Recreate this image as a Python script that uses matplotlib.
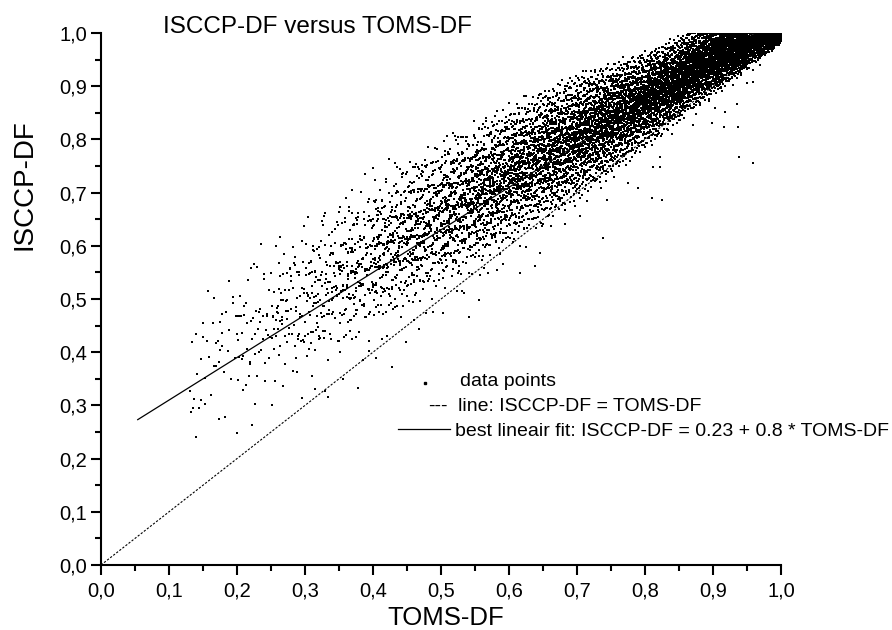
import numpy as np
import matplotlib
matplotlib.use("Agg")
import matplotlib.pyplot as plt
from matplotlib.ticker import MultipleLocator, FuncFormatter
from matplotlib.lines import Line2D

plt.rcParams['font.family'] = ['Liberation Sans', 'DejaVu Sans']

# Envelope of the point cloud at these TOMS-DF values
x_nodes = [0.13, 0.15, 0.20, 0.25, 0.30, 0.35, 0.40, 0.45, 0.50, 0.55,
           0.60, 0.65, 0.70, 0.75, 0.80, 0.85, 0.90, 0.95, 1.00]
main_lo = [0.25, 0.27, 0.30, 0.33, 0.36, 0.40, 0.44, 0.48, 0.52, 0.56,
           0.60, 0.64, 0.68, 0.73, 0.78, 0.83, 0.88, 0.93, 0.98]
main_hi = [0.45, 0.50, 0.55, 0.60, 0.64, 0.68, 0.72, 0.76, 0.80, 0.83,
           0.87, 0.90, 0.93, 0.95, 0.97, 1.00, 1.03, 1.03, 1.01]
halo_lo = [0.23, 0.24, 0.25, 0.27, 0.30, 0.33, 0.37, 0.42, 0.47, 0.52,
           0.57, 0.62, 0.67, 0.72, 0.77, 0.82, 0.87, 0.92, 0.98]
halo_hi = [0.42, 0.52, 0.57, 0.62, 0.66, 0.71, 0.75, 0.78, 0.81, 0.84,
           0.87, 0.90, 0.92, 0.94, 0.96, 0.99, 1.00, 1.00, 1.00]
# estimated number of points between two neighbouring nodes
main_n = [6, 20, 40, 70, 110, 170, 240, 340, 450, 580, 700, 820, 940, 1050, 1150, 1300, 1500, 1100]
halo_n = [3, 8, 12, 15, 20, 25, 30, 35, 40, 45, 45, 45, 45, 40, 35, 30, 25, 15]

# single points away from the cloud
out_x = [0.938, 0.959, 0.935, 0.918, 0.937, 0.916, 0.903, 0.950, 0.959, 0.969,
         0.898, 0.871, 0.822, 0.812, 0.822, 0.810, 0.825, 0.790, 0.775, 0.744,
         0.847, 0.738, 0.704, 0.682, 0.638, 0.616, 0.646, 0.556, 0.541, 0.582,
         0.518, 0.525, 0.625, 0.419, 0.435, 0.454, 0.400, 0.330, 0.263, 0.225,
         0.188, 0.178, 0.165, 0.150, 0.351, 0.140, 0.200, 0.174, 0.147, 0.378,
         0.428, 0.334]
out_y = [0.767, 0.756, 0.866, 0.851, 0.823, 0.823, 0.859, 0.906, 0.908, 0.940,
         0.830, 0.827, 0.767, 0.748, 0.748, 0.690, 0.686, 0.709, 0.718, 0.686,
         0.830, 0.615, 0.656, 0.641, 0.562, 0.549, 0.586, 0.498, 0.466, 0.554,
         0.812, 0.805, 0.882, 0.726, 0.748, 0.757, 0.746, 0.662, 0.617, 0.566,
         0.534, 0.472, 0.455, 0.429, 0.673, 0.240, 0.248, 0.274, 0.310, 0.333,
         0.372, 0.316]

fit_x = [0.054, 0.96]
ident_x = [0.0, 1.0]


def halton(k, base):
    f, r = 1.0, 0.0
    while k > 0:
        f /= base
        r += f * (k % base)
        k //= base
    return r


def spread(lo, hi, counts, start, peaked):
    # lay the counted points out evenly (Halton sequence) inside each band
    xs, ys = [], []
    k = start
    for i, n in enumerate(counts):
        for _ in range(n):
            u, v, w = halton(k, 2), halton(k, 3), halton(k, 5)
            k += 1
            x = x_nodes[i] + u * (x_nodes[i + 1] - x_nodes[i])
            ylo = np.interp(x, x_nodes, lo)
            yhi = np.interp(x, x_nodes, hi)
            t = (v + w) / 2 if peaked else v
            xs.append(x)
            ys.append(min(ylo + t * (yhi - ylo), 1.0))
    return xs, ys


mx, my = spread(main_lo, main_hi, main_n, 1000, True)
hx, hy = spread(halo_lo, halo_hi, halo_n, 40000, False)

W, H = 892, 630
fig = plt.figure(figsize=(W / 100, H / 100), dpi=100)
ax = fig.add_axes([101 / W, 1 - 565 / H, 680 / W, 532 / H])

ax.scatter(mx + hx + out_x, my + hy + out_y, s=2.6, marker='s', c='black', linewidths=0)
ax.plot(ident_x, ident_x, color='black', lw=0.8, dashes=(2, 1.5))
ax.plot(fit_x, [0.23 + 0.8 * v for v in fit_x], color='black', lw=0.9)

ax.set_xlim(0, 1)
ax.set_ylim(0, 1)
for s in ['top', 'right']:
    ax.spines[s].set_visible(False)
for s in ['left', 'bottom']:
    ax.spines[s].set_linewidth(1.5)
ax.xaxis.set_major_locator(MultipleLocator(0.1))
ax.yaxis.set_major_locator(MultipleLocator(0.1))
ax.xaxis.set_minor_locator(MultipleLocator(0.05))
ax.yaxis.set_minor_locator(MultipleLocator(0.05))
fmt = FuncFormatter(lambda v, p: f"{v:.1f}".replace('.', ','))
ax.xaxis.set_major_formatter(fmt)
ax.yaxis.set_major_formatter(fmt)
ax.tick_params(which='major', direction='out', length=7, width=1.5, labelsize=14.5)
ax.tick_params(which='minor', direction='out', length=4, width=1.5)
ax.tick_params(axis='x', which='major', pad=5)
ax.tick_params(axis='y', which='major', pad=3)


def fx(px):
    return px / W


def fy(py):
    return 1 - py / H


fig.text(fx(163), fy(33), "ISCCP-DF versus TOMS-DF", fontsize=17.5, va='baseline')
fig.text(fx(446), fy(625), "TOMS-DF", fontsize=18.5, ha='center', va='baseline')
fig.text(fx(24), fy(185), "ISCCP-DF", fontsize=20, rotation=90, ha='center', va='center')

# legend
fig.add_artist(Line2D([fx(425)], [fy(383)], marker='s', markersize=1.6, color='black', ls='none'))
fig.text(fx(460), fy(386), "data points", fontsize=14, va='baseline')
fig.text(fx(428), fy(411), "---", fontsize=14, va='baseline')
fig.text(fx(458), fy(411), "line: ISCCP-DF = TOMS-DF", fontsize=14, va='baseline')
fig.add_artist(Line2D([fx(398), fx(450)], [fy(429), fy(429)], color='black', lw=0.9))
fig.text(fx(455), fy(436), "best lineair fit: ISCCP-DF = 0.23 + 0.8 * TOMS-DF", fontsize=14, va='baseline')

fig.savefig("out.png", dpi=100)
